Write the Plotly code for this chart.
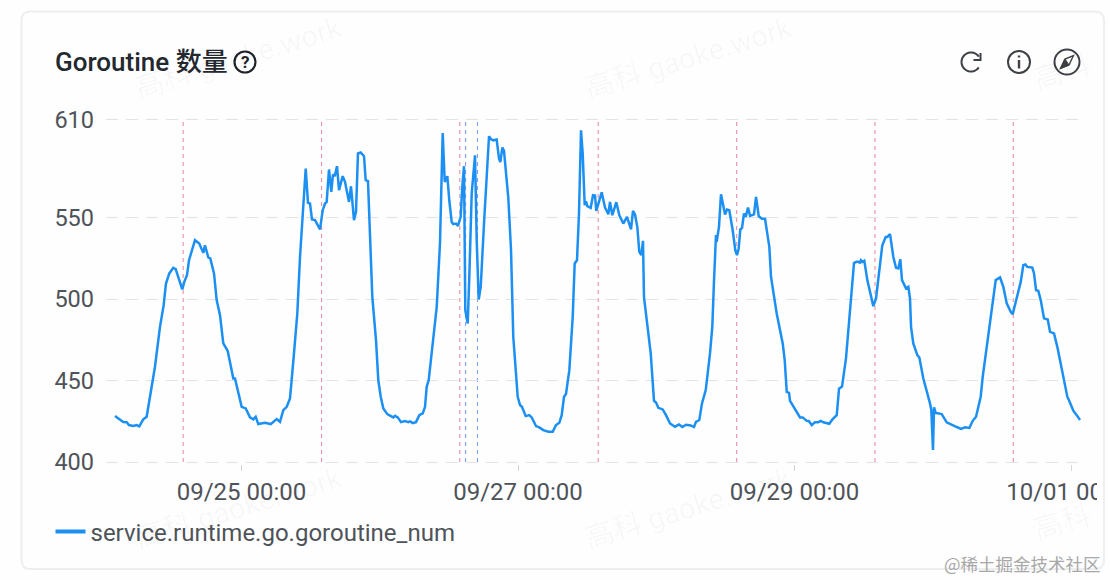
import numpy as np
import pandas as pd
import plotly.graph_objects as go

# hours after 09/25 00:00
hours = [
    -21.96, -21.39, -20.52, -19.93, -19.53, -18.78, -18.19, -17.74, -17.05, -16.46,
    -15.88, -15.31, -15.02, -14.15, -13.51, -13.11, -12.53, -11.84, -11.42, -10.28,
    -9.93, -9.46, -9.11, -8.07, -7.33, -6.63, -6.34, -5.76, -5.42, -4.77,
    -4.31, -3.73, -3.16, -2.40, -1.42, -1.13, -0.66, 0.03, 0.73, 1.48,
    2.05, 2.47, 2.92, 4.08, 5.07, 6.11, 6.68, 7.26, 7.85, 8.42,
    8.99, 9.69, 10.16, 10.62, 11.15, 11.54, 11.89, 12.24, 12.76, 13.63,
    14.10, 14.50, 14.79, 15.19, 15.59, 15.88, 16.18, 16.58, 16.93, 17.57,
    17.97, 18.66, 19.01, 19.53, 19.88, 20.22, 20.69, 21.27, 21.56, 21.96,
    22.31, 22.71, 23.35, 23.75, 24.17, 24.62, 25.31, 26.35, 26.65, 27.12,
    27.69, 28.38, 28.96, 29.25, 29.72, 30.29, 30.87, 31.46, 31.86, 32.15,
    32.50, 33.30, 33.89, 34.46, 34.93, 35.28, 35.73, 36.07, 36.49, 36.77,
    37.24, 37.58, 38.05, 38.33, 38.63, 38.85, 39.27, 39.55, 39.96, 40.54,
    40.83, 41.18, 41.53, 42.10, 42.97, 43.31, 43.71, 44.30, 44.70, 44.93,
    45.29, 45.57, 46.32, 46.79, 47.18, 47.95, 48.35, 48.69, 49.34, 49.96,
    50.38, 51.13, 51.70, 52.39, 53.26, 54.02, 54.60, 55.17, 55.59, 55.99,
    56.33, 56.91, 57.50, 57.84, 58.24, 58.59, 58.94, 59.23, 59.58, 59.80,
    60.03, 60.62, 61.02, 61.37, 61.59, 62.53, 63.10, 63.68, 63.97, 64.37,
    65.07, 65.59, 66.28, 66.92, 67.62, 67.96, 68.31, 68.71, 69.06, 69.41,
    69.70, 69.87, 70.62, 71.04, 71.61, 71.96, 72.36, 73.12, 73.69, 74.39,
    75.26, 75.95, 76.52, 77.17, 77.98, 78.55, 78.90, 79.47, 79.94, 80.59,
    81.33, 81.73, 82.03, 82.37, 82.49, 82.89, 83.24, 83.94, 84.28, 84.68,
    85.27, 85.72, 86.02, 86.31, 86.59, 86.89, 87.23, 87.53, 87.93, 88.28,
    88.97, 89.32, 89.79, 90.36, 90.88, 91.63, 91.92, 92.91, 93.95, 94.30,
    94.65, 95.05, 95.22, 96.09, 96.96, 97.42, 98.12, 98.47, 98.99, 99.56,
    100.13, 100.55, 101.00, 102.04, 102.63, 103.33, 103.73, 104.25, 104.94, 105.64,
    106.33, 106.80, 107.20, 107.37, 107.55, 107.84, 108.12, 108.64, 109.68, 110.15,
    110.84, 111.24, 111.83, 112.11, 112.58, 113.15, 113.62, 114.02, 114.37, 114.66,
    115.36, 115.76, 116.05, 116.23, 116.62, 117.32, 117.67, 118.36, 119.52, 119.75,
    120.04, 120.22, 120.51, 121.55, 122.42, 123.57, 124.16, 124.91, 125.60, 126.35,
    126.94, 127.51, 128.32, 128.67, 129.37, 130.06, 130.51, 130.93, 131.68, 132.25,
    132.84, 133.53, 133.88, 135.27, 135.72, 136.07, 136.41, 137.28, 137.58, 137.93,
    138.32, 138.74, 139.31, 139.96, 140.36, 141.05, 141.62, 142.66, 143.36, 143.83,
    144.40, 144.99, 145.56,
]
goroutines = [
    428.2, 426.8, 424.5, 424.4, 422.7, 422.1, 422.7, 421.9, 426.2, 427.8,
    440.1, 454.4, 458.5, 483.0, 496.3, 509.6, 515.8, 519.2, 518.4, 506.0,
    510.6, 514.7, 523.9, 536.2, 534.2, 528.4, 533.1, 525.6, 525.0, 515.8,
    499.4, 490.2, 472.8, 468.3, 451.3, 451.3, 444.2, 433.9, 432.9, 427.4,
    426.2, 427.8, 423.3, 424.1, 423.3, 426.4, 424.7, 431.9, 433.9, 439.1,
    461.7, 491.2, 526.0, 552.6, 580.2, 559.1, 558.7, 548.9, 548.5, 542.8,
    554.6, 558.7, 559.7, 579.6, 565.8, 576.5, 575.5, 581.6, 566.9, 575.5,
    572.0, 559.7, 569.3, 548.5, 553.6, 589.4, 590.0, 587.7, 573.0, 572.4,
    536.2, 501.4, 474.8, 450.3, 440.1, 432.9, 429.4, 427.4, 428.4, 427.4,
    424.5, 425.2, 424.5, 425.0, 423.9, 424.5, 428.8, 429.9, 433.9, 446.2,
    450.3, 474.8, 495.3, 534.4, 602.0, 572.0, 575.5, 560.7, 547.4, 546.0,
    546.4, 545.0, 550.5, 568.9, 581.6, 493.3, 485.1, 513.7, 564.8, 588.3,
    536.2, 499.8, 507.5, 546.4, 600.0, 598.2, 597.5, 598.0, 586.3, 584.2,
    593.1, 591.0, 562.0, 530.0, 476.9, 440.1, 435.0, 433.9, 428.2, 428.8,
    427.4, 422.1, 421.3, 419.6, 418.6, 418.6, 422.7, 424.1, 428.8, 440.1,
    441.7, 456.4, 489.1, 521.9, 523.9, 552.6, 603.7, 589.4, 557.7, 560.1,
    557.1, 556.0, 563.8, 563.6, 554.2, 565.6, 556.3, 552.1, 559.7, 551.5,
    559.5, 551.5, 546.4, 550.5, 542.9, 554.2, 552.0, 544.4, 529.0, 527.0,
    535.8, 501.4, 479.0, 466.7, 437.6, 436.6, 433.3, 432.3, 428.8, 423.7,
    421.7, 423.1, 421.5, 422.9, 422.5, 421.5, 424.7, 425.8, 436.0, 444.2,
    466.7, 483.0, 511.7, 539.3, 535.2, 544.4, 564.4, 552.0, 555.0, 554.6,
    542.3, 530.0, 527.0, 531.1, 542.8, 543.7, 552.6, 550.5, 556.3, 551.1,
    552.0, 562.8, 550.9, 549.3, 549.3, 532.1, 513.7, 491.2, 472.8, 462.6,
    443.1, 442.5, 437.6, 432.3, 427.4, 427.4, 425.3, 425.2, 422.7, 424.5,
    424.5, 425.2, 424.4, 423.5, 426.4, 428.8, 445.0, 446.3, 463.8, 493.3,
    522.3, 522.9, 522.9, 521.9, 523.9, 522.9, 523.5, 511.7, 495.7, 500.4,
    521.9, 533.1, 538.2, 538.2, 539.9, 526.0, 519.2, 518.8, 524.5, 511.7,
    506.6, 507.5, 500.4, 483.0, 472.8, 465.6, 464.2, 451.3, 436.0, 431.9,
    407.4, 433.6, 430.2, 429.4, 424.4, 422.3, 421.5, 420.4, 421.3, 420.9,
    425.3, 427.8, 440.1, 452.3, 470.7, 491.2, 501.4, 511.7, 513.3, 507.5,
    497.4, 492.2, 490.8, 510.6, 520.9, 521.3, 519.8, 519.4, 515.8, 505.5,
    505.1, 499.4, 488.2, 487.5, 479.9, 479.0, 470.7, 451.3, 440.1, 436.4,
    431.5, 428.8, 425.8,
]
series_name = "service.runtime.go.goroutine_num"

y_ticks = [400, 450, 500, 550, 610]
x_ticks = ["2023-09-25", "2023-09-27", "2023-09-29", "2023-10-01"]
x_tick_labels = ["09/25 00:00", "09/27 00:00", "09/29 00:00", "10/01 00:00"]

# dashed event markers, hours after 09/25 00:00
red_events = [-10.12, 13.9, 37.9, 61.92, 85.96, 109.97, 133.98]
blue_events = [38.9, 40.97]

base = pd.Timestamp("2023-09-25")


def to_time(h):
    return base + pd.to_timedelta(h, unit="h")


W, H = 1110, 580
L, R, T, B = 106, 1083, 118, 464


# page pixels to paper coords, for the card chrome and icons
def px(x):
    return (x - L) / (R - L)


def py(y):
    return (B - y) / (B - T)


def path(points, close=False):
    d = "M" + " L".join(f"{px(x):.5f},{py(y):.5f}" for x, y in points)
    return d + (" Z" if close else "")


def circle(cx, cy, r, color, width=2.0):
    return dict(type="circle", xref="paper", yref="paper", layer="above",
                x0=px(cx - r), x1=px(cx + r), y0=py(cy + r), y1=py(cy - r),
                line=dict(color=color, width=width))


def line_shape(points, color, width=2.0, close=False, fill=None):
    return dict(type="path", xref="paper", yref="paper", layer="above",
                path=path(points, close), fillcolor=fill,
                line=dict(color=color, width=width))


def arc(cx, cy, r, a0, a1, n=30):
    t = np.radians(np.linspace(a0, a1, n))
    return [(cx + r * np.cos(a), cy - r * np.sin(a)) for a in t]


fig = go.Figure()
fig.add_trace(go.Scatter(
    x=[to_time(h) for h in hours], y=goroutines, mode="lines", showlegend=False,
    line=dict(color="#1c8ff3", width=2.5), hoverinfo="skip",
))
# legend entry with the thicker swatch
fig.add_trace(go.Scatter(
    x=[None], y=[None], mode="lines", name=series_name,
    line=dict(color="#1c8ff3", width=4),
))

shapes = []
for h in red_events:
    shapes.append(dict(type="line", xref="x", yref="y", x0=to_time(h), x1=to_time(h), y0=400, y1=610,
                       layer="below", line=dict(color="#ea8fa3", width=1.1, dash="4px,4px")))
for h in blue_events:
    shapes.append(dict(type="line", xref="x", yref="y", x0=to_time(h), x1=to_time(h), y0=400, y1=610,
                       layer="below", line=dict(color="#7fa0f5", width=1.1, dash="4px,4px")))

# covers the clipped end of the last tick label, then the card border on top
shapes.append(dict(type="rect", xref="paper", yref="paper", layer="above",
                   x0=px(1097), x1=px(1112), y0=py(475), y1=py(505),
                   fillcolor="#fefefe", line=dict(width=0)))
x0, x1, y0, y1, r = 21.5, 1104, 11.5, 569, 9
shapes.append(dict(type="path", xref="paper", yref="paper", layer="above",
                   path=(f"M{px(x0 + r)},{py(y0)} L{px(x1 - r)},{py(y0)} Q{px(x1)},{py(y0)} {px(x1)},{py(y0 + r)} "
                         f"L{px(x1)},{py(y1 - r)} Q{px(x1)},{py(y1)} {px(x1 - r)},{py(y1)} "
                         f"L{px(x0 + r)},{py(y1)} Q{px(x0)},{py(y1)} {px(x0)},{py(y1 - r)} "
                         f"L{px(x0)},{py(y0 + r)} Q{px(x0)},{py(y0)} {px(x0 + r)},{py(y0)} Z"),
                   line=dict(color="#eceeef", width=2)))

# title help icon
shapes.append(circle(245, 62, 10.5, "#1f2329", 2.2))
# refresh icon
icon = "#3d4045"
shapes.append(line_shape(arc(971, 62, 9.5, 35, 325), icon))
shapes.append(line_shape([(980.5, 53), (980.5, 60), (973.5, 60)], icon))
# info icon
shapes.append(circle(1019, 62, 11, icon))
shapes.append(line_shape([(1019, 60), (1019, 68.5)], icon, 2.4))
shapes.append(line_shape([(1019, 55.5), (1019, 57.5)], icon, 2.4))
# compass icon
shapes.append(circle(1067, 62, 12.5, icon))
shapes.append(line_shape([(1073.5, 55.5), (1069, 65), (1060.5, 68.5), (1065, 59)], icon, 1.4, True))
shapes.append(line_shape([(1060.5, 68.5), (1065, 59), (1069, 65)], icon, 1.0, True, icon))

ink = "#4e5359"
cjk = "Roboto, 'Noto Sans CJK SC', sans-serif"

annotations = [
    dict(text="Goroutine 数量", x=px(53), y=py(62), xanchor="left", yanchor="middle", showarrow=False,
         xref="paper", yref="paper", font=dict(family=cjk, size=26, color="#23282f", weight=500)),
    dict(text="?", x=px(245), y=py(62), xanchor="center", yanchor="middle", showarrow=False,
         xref="paper", yref="paper", font=dict(family="Roboto", size=17, color="#1f2329", weight=700)),
    dict(text="@稀土掘金技术社区", x=px(1103), y=py(563), xanchor="right", yanchor="middle", showarrow=False,
         xref="paper", yref="paper", font=dict(family="'Noto Sans CJK SC'", size=17.5, color="#a8a8a8")),
]
# faint watermarks
for cx, cy, mark in [(238, 58, "高科 gaoke.work"), (688, 58, "高科 gaoke.work"),
                     (238, 508, "高科 gaoke.work"), (688, 508, "高科 gaoke.work"),
                     (1062, 72, "高科"), (1062, 522, "高科")]:
    annotations.append(dict(text=mark, x=px(cx), y=py(cy), textangle=-17, showarrow=False,
                            xref="paper", yref="paper", xanchor="center", yanchor="middle",
                            font=dict(family=cjk, size=29, color="rgba(0,0,0,0.03)")))

fig.update_layout(
    width=W, height=H, autosize=False,
    margin=dict(l=L, r=W - R, t=T, b=H - B, pad=0, autoexpand=False),
    paper_bgcolor="#fefefe", plot_bgcolor="rgba(0,0,0,0)",
    font=dict(family="Roboto, sans-serif", size=23, color=ink),
    showlegend=True,
    legend=dict(x=px(50.5), y=py(532), xanchor="left", yanchor="middle", orientation="h",
                itemwidth=30, bgcolor="rgba(0,0,0,0)", font=dict(size=24, color=ink)),
    xaxis=dict(type="date", range=[to_time(-23.52), to_time(146.08)], tickmode="array",
               tickvals=x_ticks, ticktext=x_tick_labels, tickangle=0, showgrid=False, zeroline=False, showline=False,
               ticks="outside", ticklen=6, tickcolor="#d4d6d8", tickwidth=1, ticklabeloverflow="allow",
               tickfont=dict(size=24, color=ink)),
    yaxis=dict(range=[398.8, 611.2], tickmode="array", tickvals=y_ticks, zeroline=False, showline=False,
               gridcolor="#e4e1e2", griddash="12px,8px", gridwidth=1, ticks="", ticklabelstandoff=11,
               tickfont=dict(size=23.5, color=ink)),
    shapes=shapes, annotations=annotations,
)

fig.write_html("out.html", config={"displayModeBar": False},
               post_script="document.body.style.margin='0';document.body.style.background='#fefefe';")
